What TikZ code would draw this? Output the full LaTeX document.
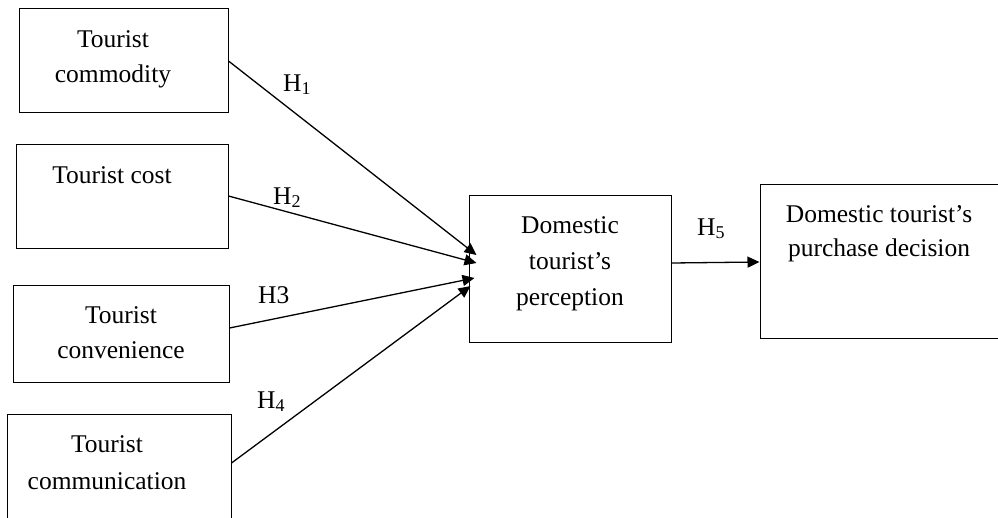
\documentclass[tikz,border=0pt]{standalone}
\usepackage{fontspec}
\setmainfont{Liberation Serif}
\usetikzlibrary{arrows.meta}
\newcommand{\hsub}[1]{\raisebox{-3pt}{\fontsize{18}{18}\selectfont #1}}
\begin{document}
\begin{tikzpicture}[x=1pt,y=-1pt,
  box/.style={draw, line width=1pt, inner sep=0pt},
  txt/.style={align=center, inner sep=0pt, font=\fontsize{25.5}{35}\selectfont},
  lbl/.style={anchor=base west, inner sep=0pt, font=\fontsize{25.5}{30}\selectfont},
  arr/.style={line width=1.3pt, -{Triangle[length=12pt,width=11pt]}}]
\useasboundingbox (0,0) rectangle (998,517);
\clip (0,0) rectangle (998,517);
% boxes
\node[box, minimum width=209pt, minimum height=104pt] (b1) at (123.5,60) {};
\node[box, minimum width=212pt, minimum height=104pt] (b2) at (122,196) {};
\node[box, minimum width=216pt, minimum height=97pt] (b3) at (121,333.5) {};
\node[box, minimum width=224pt, minimum height=108pt] (b4) at (119,468) {};
\node[box, minimum width=202pt, minimum height=147pt] (c) at (570,268.5) {};
\node[box, minimum width=242pt, minimum height=154pt] (r) at (881,261) {};
% texts
\node[txt] (t1) at (113,59) {Tourist\\commodity};
\node[txt, anchor=base] (t2) at (112,183) {Tourist cost};
\node[txt] (t3) at (121,332.5) {Tourist\\convenience};
\node[txt, font=\fontsize{25.5}{37}\selectfont] (t4) at (107,463) {Tourist\\communication};
\node[txt, font=\fontsize{25.5}{36}\selectfont] (tc) at (570,264) {Domestic\\tourist’s\\perception};
\node[txt, font=\fontsize{25.5}{34}\selectfont] (tr) at (879,234) {Domestic tourist’s\\purchase decision};
% arrows
\draw[arr] ([yshift=-1pt]b1.east) -- ([xshift=8pt,yshift=13.5pt]c.west);
\draw[arr] (b2.east) -- ([xshift=8pt,yshift=5.5pt]c.west);
\draw[arr] ([yshift=5.5pt]b3.east) -- ([xshift=6pt,yshift=-9.5pt]c.west);
\draw[arr] ([yshift=5pt]b4.east) -- ([xshift=2pt,yshift=-17.5pt]c.west);
\draw[arr] ([yshift=5.5pt]c.east) -- ([yshift=-1pt]r.west);
% labels
\node[lbl] (h1) at (283,91) {H\hsub{1}};
\node[lbl] (h2) at (273,204) {H\hsub{2}};
\node[lbl] (h3) at (258,303) {H3};
\node[lbl] (h4) at (257,408) {H\hsub{4}};
\node[lbl] (h5) at (697,235) {H\hsub{5}};
\end{tikzpicture}
\end{document}
